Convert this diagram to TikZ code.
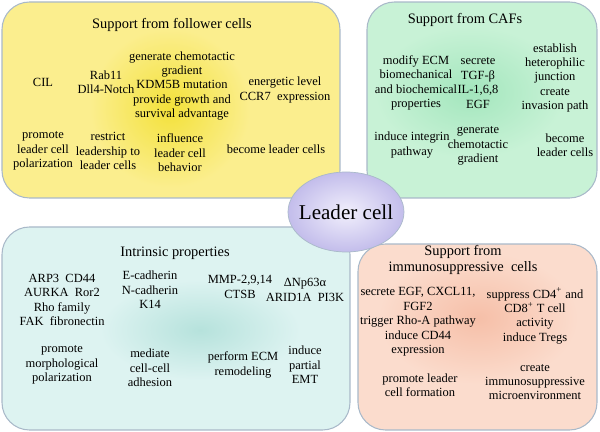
\documentclass[tikz,border=0pt]{standalone}
\usepackage{fontspec}
\setmainfont{Liberation Serif}
\definecolor{yelbox}{HTML}{FBEE8E}
\definecolor{yelglow}{HTML}{F3E13A}
\definecolor{grnbox}{HTML}{C8F2D6}
\definecolor{grnglow}{HTML}{A3E6BD}
\definecolor{cyabox}{HTML}{DDF3F1}
\definecolor{cyaglow}{HTML}{B6E2DC}
\definecolor{salbox}{HTML}{FBDCCD}
\definecolor{salglow}{HTML}{F6BFA8}
\definecolor{edge}{HTML}{A9B9C9}
\definecolor{cellout}{HTML}{C3BDEB}
\definecolor{cellin}{HTML}{F1EFFC}
\tikzset{
  panel/.style={draw=edge, line width=0.6pt, rounded corners=0.55cm},
  txt/.style={align=center, font=\fontsize{7.1}{8.2}\selectfont, inner sep=1pt},
  head/.style={align=center, font=\fontsize{8.2}{9.6}\selectfont, inner sep=1pt}
}
\begin{document}
\begin{tikzpicture}[x=0.02cm,y=-0.02cm]
\useasboundingbox (0,0) rectangle (600,432);

% panels
\fill[yelbox, rounded corners=0.55cm] (2,2) rectangle (340,198);
\shade[inner color=yelglow, outer color=yelbox] (170,108) circle (80);
\draw[panel] (2,2) rectangle (340,198);

\begin{scope}
\clip[rounded corners=0.55cm] (367,2) rectangle (597,198);
\fill[grnbox] (367,2) rectangle (597,198);
\shade[inner color=grnglow, outer color=grnbox] (470,92) ellipse (95 and 66);
\end{scope}
\draw[panel] (367,2) rectangle (597,198);

\fill[cyabox, rounded corners=0.55cm] (2,227) rectangle (350,430);
\shade[inner color=cyaglow, outer color=cyabox] (200,330) ellipse (100 and 50);
\draw[panel] (2,227) rectangle (350,430);

\begin{scope}
\clip[rounded corners=0.55cm] (358,244) rectangle (597,430);
\fill[salbox] (358,244) rectangle (597,430);
\shade[inner color=salglow, outer color=salbox] (478,318) ellipse (100 and 66);
\end{scope}
\draw[panel] (358,244) rectangle (597,430);

% leader cell
\shade[inner color=cellin, outer color=cellout] (346,212) ellipse (58 and 40);
\draw[edge] (346,212) ellipse (58 and 40);
\node[font=\fontsize{12}{14}\selectfont] (leader) at (346,212) {Leader cell};

% follower cells
\node[head] (fTitle) at (172,25) {Support from follower cells};
\node[txt] (fCil) at (43,82) {CIL};
\node[txt] (fRab) at (106,82) {Rab11\\Dll4-Notch};
\node[txt] (fGen) at (182,86) {generate chemotactic\\gradient\\KDM5B mutation\\provide growth and\\survival advantage};
\node[txt] (fEne) at (285,90) {energetic level\\CCR7\ \ expression};
\node[txt] (fPro) at (43,151) {promote\\leader cell\\polarization};
\node[txt] (fRes) at (108,151) {restrict\\leadership to\\leader cells};
\node[txt] (fInf) at (180,153) {influence\\leader cell\\behavior};
\node[txt] (fBec) at (276,149) {become leader cells};

% CAFs
\node[head] (cTitle) at (465,20) {Support from CAFs};
\node[txt] (cMod) at (416,83) {modify ECM\\biomechanical\\and biochemical\\properties};
\node[txt] (cSec) at (478,83) {secrete\\TGF-β\\IL-1,6,8\\EGF};
\node[txt] (cEst) at (555,78) {establish\\heterophilic\\junction\\create\\invasion path};
\node[txt] (cInd) at (412,145) {induce integrin\\pathway};
\node[txt] (cGen) at (478,146) {generate\\chemotactic\\gradient};
\node[txt] (cBec) at (565,145) {become\\leader cells};

% intrinsic
\node[head] (iTitle) at (175,253) {Intrinsic properties};
\node[txt] (iArp) at (62,300) {ARP3\ \ CD44\\AURKA\ \ Ror2\\Rho family\\FAK\ \ fibronectin};
\node[txt] (iCad) at (150,290) {E-cadherin\\N-cadherin\\K14};
\node[txt] (iMmp) at (240,287) {MMP-2,9,14\\CTSB};
\node[txt] (iNp) at (305,290) {ΔNp63α\\ARID1A\ \ PI3K};
\node[txt] (iPro) at (62,365) {promote\\morphological\\polarization};
\node[txt] (iMed) at (150,368) {mediate\\cell-cell\\adhesion};
\node[txt] (iPer) at (243,365) {perform ECM\\remodeling};
\node[txt] (iInd) at (305,365) {induce\\partial\\EMT};

% immunosuppressive
\node[head] (sTitle) at (463,260) {Support from\\immunosuppressive\ \ cells};
\node[txt] (sSec) at (418,322) {secrete EGF, CXCL11,\\FGF2\\trigger Rho-A pathway\\induce CD44\\expression};
\node[txt] (sSup) at (535,316) {suppress CD4\textsuperscript{+} and\\CD8\textsuperscript{+} T cell\\activity\\induce Tregs};
\node[txt] (sPro) at (420,385) {promote leader\\cell formation};
\node[txt] (sCre) at (535,382) {create\\immunosuppressive\\microenvironment};

\end{tikzpicture}
\end{document}
